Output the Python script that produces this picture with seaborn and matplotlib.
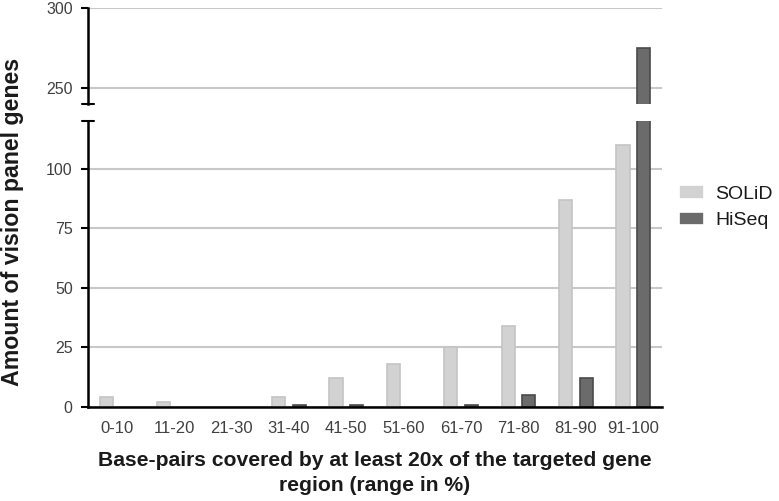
import matplotlib.pyplot as plt
import pandas as pd
import seaborn as sns

plt.switch_backend("Agg")
sns.set_theme(style="white")
plt.rcParams["font.family"] = ["Liberation Sans", "DejaVu Sans"]

ranges = ["0-10", "11-20", "21-30", "31-40", "41-50", "51-60", "61-70", "71-80", "81-90", "91-100"]
solid = [4, 2, 0, 4, 12, 18, 25, 34, 87, 110]
hiseq = [0, 0, 0, 1, 1, 0, 1, 5, 12, 275]
platforms = ["SOLiD", "HiSeq"]
lower_ticks = [0, 25, 50, 75, 100]
upper_ticks = [250, 300]

FILL = ["#d2d2d2", "#6b6b6b"]
EDGE = ["#c4c4c4", "#4a4a4a"]
GRID = "#c8c8c8"
TICK_COLOR = "#404040"

df = pd.DataFrame({
    "range": ranges * 2,
    "genes": solid + hiseq,
    "platform": [platforms[0]] * len(ranges) + [platforms[1]] * len(ranges),
})

W, H = 779, 501
fig = plt.figure(figsize=(W / 100, H / 100), dpi=100)
left, right = 88 / W, 662 / W
ax_top = fig.add_axes([left, 1 - 104 / H, right - left, 96 / H])
ax_low = fig.add_axes([left, 1 - 407 / H, right - left, 286 / H])


def draw(ax):
    sns.barplot(data=df, x="range", y="genes", hue="platform", palette=FILL,
                width=0.72, gap=0.36, errorbar=None, ax=ax, linewidth=1.2)
    for cont, ec in zip(ax.containers, EDGE):
        for bar in cont:
            bar.set_edgecolor(ec)
            if bar.get_height() == 0:
                bar.set_linewidth(0)
    ax.set_axisbelow(True)
    ax.yaxis.grid(True, color=GRID, linewidth=1.5)
    ax.set_xlim(-0.5, len(ranges) - 0.5)
    ax.set_xlabel("")
    ax.set_ylabel("")
    for side in ["top", "right", "bottom"]:
        ax.spines[side].set_visible(False)
    ax.spines["left"].set_color("black")
    ax.spines["left"].set_linewidth(1.8)
    ax.tick_params(axis="y", direction="out", length=5, width=1.5, color="black",
                   labelsize=11.5, labelcolor=TICK_COLOR, left=True, pad=6)


draw(ax_top)
draw(ax_low)

ax_top.set_ylim(240, 300)
ax_top.set_yticks(upper_ticks)
ax_top.set_xticks([])
ax_top.get_legend().remove()

ax_low.set_ylim(0, 120)
ax_low.set_yticks(lower_ticks)
ax_low.spines["bottom"].set_visible(True)
ax_low.spines["bottom"].set_color("black")
ax_low.spines["bottom"].set_linewidth(1.8)
ax_low.tick_params(axis="x", length=0, labelsize=12, labelcolor=TICK_COLOR, pad=10)
ax_low.set_xlabel("Base-pairs covered by at least 20x of the targeted gene\nregion (range in %)",
                  fontsize=15.2, fontweight="bold", color="#1a1a1a", labelpad=11,
                  linespacing=1.4)

# break caps on the y spine
cap = 6 / (right - left) / W
ax_top.plot([-cap, cap], [0, 0], transform=ax_top.transAxes, color="black", lw=1.5, clip_on=False)
ax_low.plot([-cap, cap], [1, 1], transform=ax_low.transAxes, color="black", lw=1.5, clip_on=False)

handles, labels = ax_low.get_legend_handles_labels()
ax_low.get_legend().remove()
ax_low.legend(handles, labels, loc="upper left", bbox_to_anchor=(1.03, 0.775), frameon=False,
              fontsize=14, handlelength=1.25, handleheight=0.7, handletextpad=0.6,
              labelspacing=0.45, borderpad=0, borderaxespad=0, labelcolor="#1a1a1a")

fig.text(13 / W, 1 - 222 / H, "Amount of vision panel genes", rotation=90, ha="center",
         va="center", fontsize=16.7, fontweight="bold", color="#1a1a1a")

fig.savefig("out.png", dpi=100)
plt.close(fig)
